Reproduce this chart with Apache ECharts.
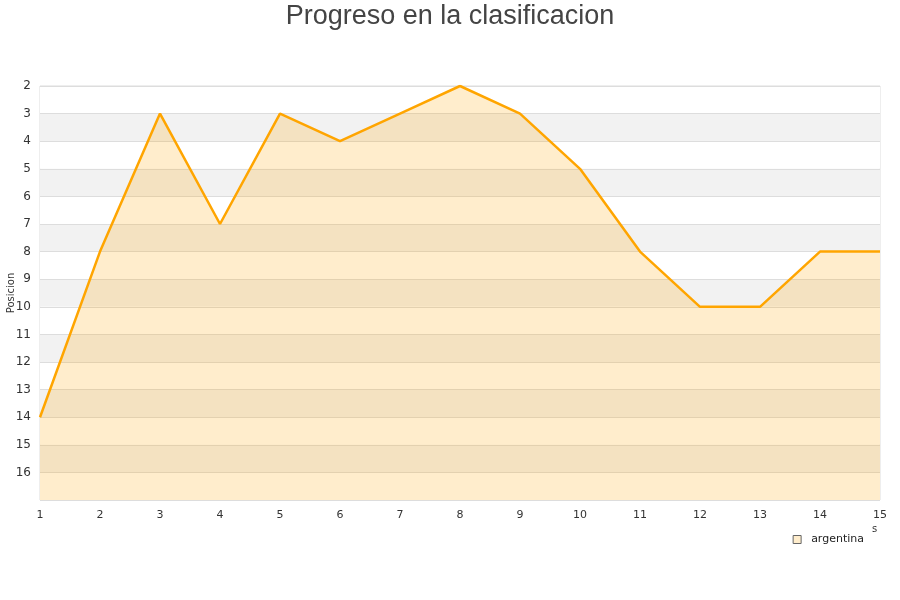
<!DOCTYPE html>
<html><head><meta charset="utf-8">
<script src="https://cdn.jsdelivr.net/npm/echarts@6/dist/echarts.min.js"></script>
<style>html,body{margin:0;padding:0;background:#fff}#c{width:900px;height:600px}</style>
</head><body><div id="c"></div>
<script>
const titleText = 'Progreso en la clasificacion';
const jornadas = ['1','2','3','4','5','6','7','8','9','10','11','12','13','14','15'];
const argentina = [14, 8, 3, 7, 3, 4, 3, 2, 3, 5, 8, 10, 10, 8, 8];
const seriesName = 'argentina';
const yName = 'Posicion';

const chart = echarts.init(document.getElementById('c'));
chart.setOption({
  animation: false,
  title: { text: titleText, left: 'center', top: -2,
    textStyle: { fontFamily: 'Liberation Sans', fontSize: 27, fontWeight: 'normal', color: '#444' } },
  grid: { left: 40, right: 20, top: 86, bottom: 100, containLabel: false, outerBoundsMode: 'none',
    show: true, borderColor: '#ddd', borderWidth: 1 },
  legend: { right: 31, top: 529, itemWidth: 8, itemHeight: 8, icon: 'rect', itemGap: 10,
    textStyle: { fontFamily: 'DejaVu Sans', fontSize: 11, color: '#222', padding: [0, 0, 0, 5] },
    data: [{ name: seriesName, itemStyle: { color: '#ffedcc', borderColor: '#666', borderWidth: 1 } }] },
  xAxis: { type: 'category', data: jornadas, boundaryGap: false,
    axisLine: { show: false }, axisTick: { show: false },
    axisLabel: { fontFamily: 'DejaVu Sans', fontSize: 11, color: '#333', margin: 10 },
    splitLine: { show: false } },
  yAxis: { type: 'value', inverse: true, min: 2, max: 17, interval: 1,
    name: yName, nameLocation: 'middle', nameGap: 24, nameMoveOverlap: false,
    nameTextStyle: { fontFamily: 'DejaVu Sans', fontSize: 10, color: '#333' },
    axisLine: { show: false }, axisTick: { show: false },
    axisLabel: { fontFamily: 'DejaVu Sans', fontSize: 12, color: '#333', margin: 9,
      formatter: v => v === 17 ? '' : String(v) },
    splitLine: { show: true, lineStyle: { color: '#ddd' } },
    splitArea: { show: true, areaStyle: { color: ['#ffffff', '#f2f2f2'] } } },
  graphic: [{ type: 'text', left: 872, top: 524,
    style: { text: 's', fontFamily: 'DejaVu Sans', fontSize: 10, fill: '#333' } }],
  series: [{ name: seriesName, type: 'line', data: argentina, symbol: 'none',
    lineStyle: { color: '#ffa500', width: 2.5 },
    itemStyle: { color: '#ffedcc' },
    areaStyle: { color: '#ffa500', opacity: 0.2, origin: 'end' } }]
});
</script></body></html>
